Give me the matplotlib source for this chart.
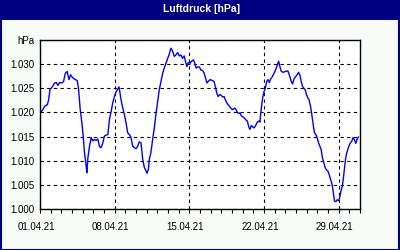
import matplotlib
matplotlib.use("Agg")
import matplotlib.pyplot as plt
import matplotlib.dates as mdates
from matplotlib.patches import Rectangle
from matplotlib.transforms import ScaledTranslation
import pandas as pd

# days since 01.04.21 00:00
day = [0.06, 0.28, 0.44, 0.69, 0.81, 0.93, 1.12, 1.37, 1.53, 1.68, 1.84, 2.06, 2.21, 2.37, 2.55,
       2.71, 2.87, 3.05, 3.24, 3.49, 3.61, 3.77, 3.93, 4.05, 4.17, 4.33, 4.39, 4.49, 4.64, 4.80,
       4.95, 5.11, 5.26, 5.42, 5.58, 5.73, 5.89, 6.04, 6.20, 6.36, 6.51, 6.67, 6.82, 6.98, 7.13,
       7.29, 7.41, 7.60, 7.76, 7.91, 8.07, 8.22, 8.38, 8.54, 8.69, 8.85, 9.00, 9.16, 9.31, 9.47,
       9.63, 9.78, 9.94, 10.03, 10.16, 10.25, 10.40, 10.56, 10.72, 10.87, 11.03, 11.18, 11.34,
       11.50, 11.65, 11.81, 11.96, 12.12, 12.27, 12.43, 12.59, 12.74, 12.90, 13.05, 13.21, 13.36,
       13.52, 13.68, 13.77, 13.89, 14.08, 14.21, 14.39, 14.52, 14.64, 14.77, 14.95, 15.08, 15.23,
       15.39, 15.55, 15.64, 15.76, 15.95, 16.17, 16.32, 16.48, 16.57, 16.70, 16.85, 17.01, 17.13,
       17.26, 17.38, 17.51, 17.63, 17.76, 17.88, 18.01, 18.13, 18.26, 18.38, 18.50, 18.63, 18.75,
       18.88, 19.00, 19.13, 19.28, 19.44, 19.60, 19.69, 19.81, 19.94, 20.07, 20.22, 20.37, 20.53,
       20.62, 20.68, 20.78, 20.87, 21.00, 21.12, 21.25, 21.37, 21.50, 21.62, 21.78, 21.93, 22.09,
       22.24, 22.37, 22.49, 22.62, 22.80, 23.02, 23.24, 23.43, 23.55, 23.68, 23.80, 23.96, 24.11,
       24.24, 24.36, 24.49, 24.61, 24.74, 24.86, 24.98, 25.11, 25.23, 25.36, 25.48, 25.61, 25.73,
       25.86, 25.98, 26.11, 26.23, 26.36, 26.48, 26.61, 26.73, 26.85, 26.98, 27.10, 27.23, 27.35,
       27.48, 27.60, 27.73, 27.85, 28.01, 28.10, 28.22, 28.35, 28.47, 28.60, 28.72, 28.85, 28.97,
       29.10, 29.22, 29.35, 29.47, 29.60, 29.72, 29.84]
hpa = [1.0200, 1.0206, 1.0213, 1.0216, 1.0226, 1.0247, 1.0252, 1.0261, 1.0262, 1.0256, 1.0262,
       1.0261, 1.0264, 1.0281, 1.0285, 1.0268, 1.0278, 1.0272, 1.0269, 1.0266, 1.0250, 1.0206,
       1.0178, 1.0151, 1.0117, 1.0089, 1.0075, 1.0106, 1.0130, 1.0148, 1.0141, 1.0144, 1.0142,
       1.0145, 1.0129, 1.0127, 1.0137, 1.0151, 1.0153, 1.0154, 1.0185, 1.0202, 1.0220, 1.0233,
       1.0243, 1.0248, 1.0253, 1.0226, 1.0209, 1.0196, 1.0178, 1.0158, 1.0154, 1.0148, 1.0130,
       1.0127, 1.0125, 1.0130, 1.0139, 1.0137, 1.0103, 1.0086, 1.0079, 1.0074, 1.0082, 1.0103,
       1.0117, 1.0144, 1.0168, 1.0196, 1.0223, 1.0247, 1.0264, 1.0281, 1.0292, 1.0302, 1.0312,
       1.0321, 1.0333, 1.0327, 1.0316, 1.0319, 1.0324, 1.0317, 1.0319, 1.0312, 1.0317, 1.0302,
       1.0295, 1.0303, 1.0302, 1.0306, 1.0309, 1.0301, 1.0292, 1.0294, 1.0294, 1.0288, 1.0287,
       1.0281, 1.0269, 1.0261, 1.0264, 1.0268, 1.0266, 1.0264, 1.0250, 1.0240, 1.0233, 1.0237,
       1.0235, 1.0232, 1.0233, 1.0226, 1.0220, 1.0216, 1.0213, 1.0209, 1.0206, 1.0207, 1.0209,
       1.0206, 1.0200, 1.0198, 1.0199, 1.0193, 1.0191, 1.0189, 1.0185, 1.0182, 1.0168, 1.0165,
       1.0173, 1.0170, 1.0168, 1.0173, 1.0180, 1.0182, 1.0180, 1.0196, 1.0213, 1.0230, 1.0243,
       1.0250, 1.0264, 1.0268, 1.0262, 1.0269, 1.0274, 1.0281, 1.0288, 1.0298, 1.0306, 1.0295,
       1.0285, 1.0283, 1.0285, 1.0286, 1.0274, 1.0264, 1.0259, 1.0269, 1.0274, 1.0278, 1.0283,
       1.0278, 1.0264, 1.0254, 1.0250, 1.0247, 1.0237, 1.0230, 1.0226, 1.0213, 1.0196, 1.0175,
       1.0158, 1.0154, 1.0148, 1.0137, 1.0130, 1.0123, 1.0106, 1.0096, 1.0086, 1.0081, 1.0079,
       1.0072, 1.0062, 1.0054, 1.0038, 1.0017, 1.0015, 1.0019, 1.0017, 1.0024, 1.0038, 1.0048,
       1.0069, 1.0096, 1.0113, 1.0123, 1.0131, 1.0137, 1.0140, 1.0148, 1.0144, 1.0136, 1.0144,
       1.0149]

xtick_dates = ["2021-04-01", "2021-04-08", "2021-04-15", "2021-04-22", "2021-04-29"]
yticks = [1.000, 1.005, 1.010, 1.015, 1.020, 1.025, 1.030, 1.035]
ylabels = ["1.000", "1.005", "1.010", "1.015", "1.020", "1.025", "1.030", "hPa"]

navy = "#000080"
plt.rcParams["font.family"] = ["Liberation Sans", "DejaVu Sans"]

start = pd.Timestamp("2021-04-01")
x = start + pd.to_timedelta(day, unit="D")

fig = plt.figure(figsize=(4, 2.5), dpi=100, facecolor="#F8FCF8")
fig.patches.append(Rectangle((0, 0.92), 1, 0.08, transform=fig.transFigure,
                             facecolor=navy, edgecolor="none", zorder=0))
fig.patches.append(Rectangle((0.002, 0.002), 0.996, 0.996, transform=fig.transFigure,
                             facecolor="none", edgecolor=navy, linewidth=1.5, zorder=5))
fig.text(0.505, 0.965, "Luftdruck [hPa]", color="white", fontweight="bold", fontsize=7.5,
         ha="center", va="center")

ax = fig.add_axes([0.1, 0.164, 0.8, 0.676])
ax.plot(x, hpa, color="#0000FF", linewidth=1)

ax.set_xlim(start, pd.Timestamp("2021-05-01"))
ax.set_ylim(1.000, 1.035)
ax.set_yticks(yticks)
ax.set_yticklabels(ylabels)
ax.set_xticks(pd.to_datetime(xtick_dates))
ax.xaxis.set_minor_locator(mdates.DayLocator())
ax.xaxis.set_major_formatter(mdates.DateFormatter("%d.%m.%y"))

ax.grid(True, which="major", color="black", linestyle=(0, (3, 3)), linewidth=0.8)
ax.tick_params(axis="y", length=0, pad=4, labelsize=7)
ax.tick_params(axis="x", which="both", direction="out", length=3, width=0.8, pad=6, labelsize=7)
for lab in ax.get_xticklabels():
    lab.set_transform(lab.get_transform() + ScaledTranslation(-4 / 100, 0, fig.dpi_scale_trans))
for s in ax.spines.values():
    s.set_linewidth(1)

fig.savefig("out.png", dpi=100, facecolor=fig.get_facecolor())
